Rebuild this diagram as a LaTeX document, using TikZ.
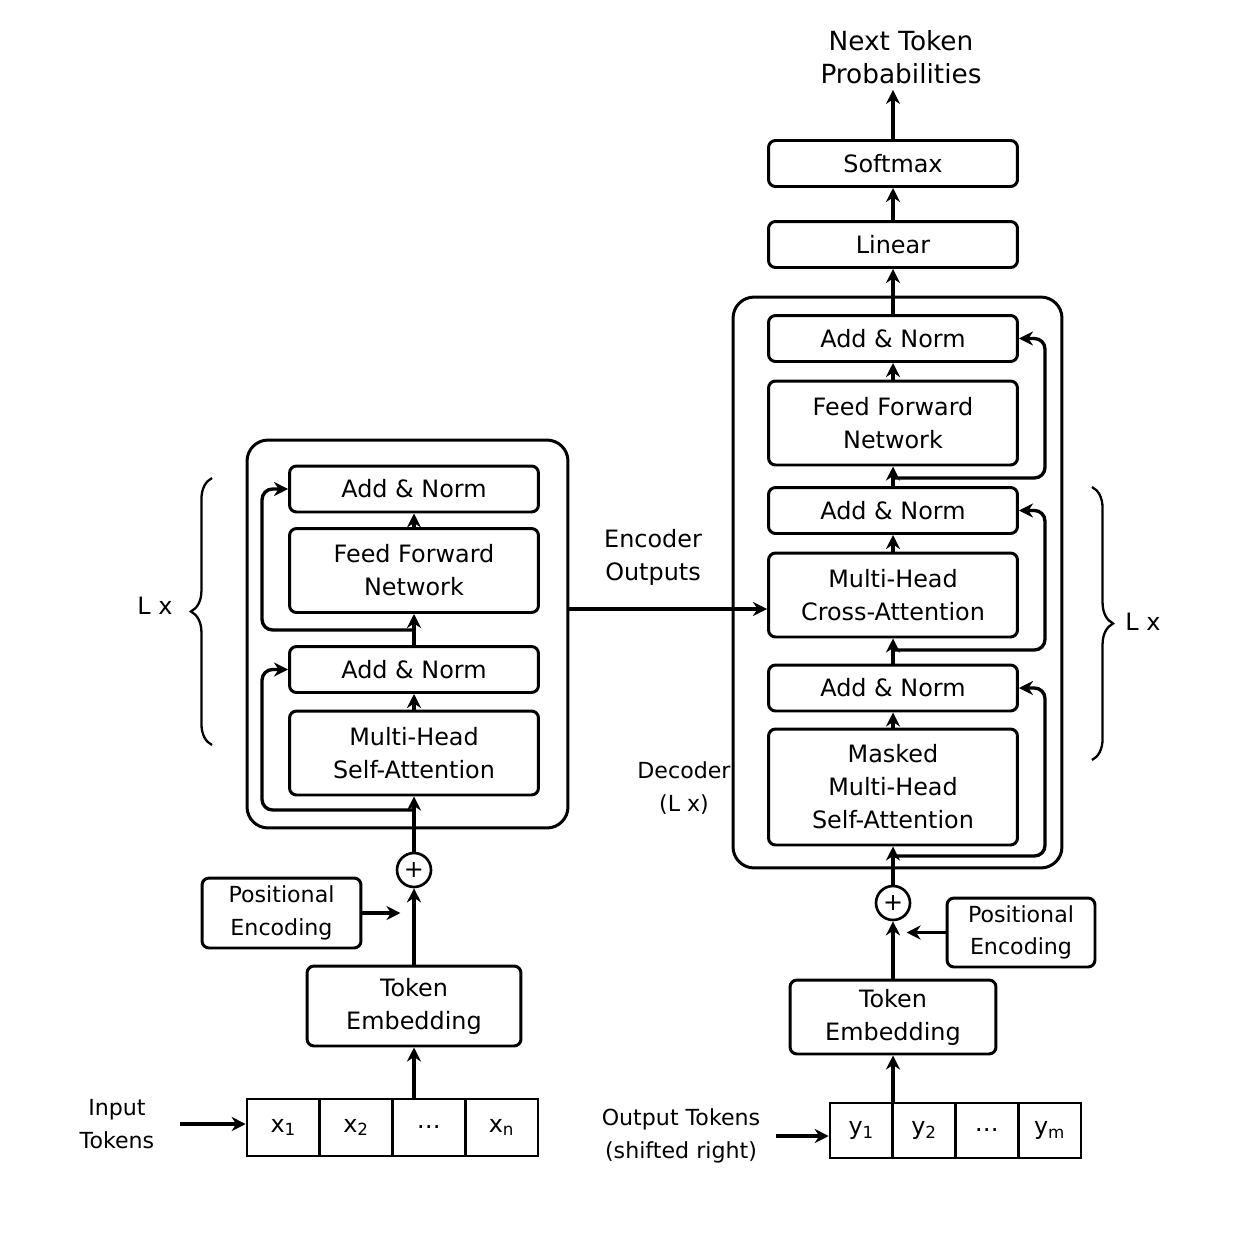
\documentclass[tikz,border=0pt]{standalone}
\usepackage{fontspec}
\setmainfont{DejaVu Sans}
\usepackage{tikz}
\usetikzlibrary{positioning,calc}
\usetikzlibrary{arrows.meta,decorations.pathreplacing}
\newcommand\blkfont{\fontsize{13.6}{18.8}\selectfont}
\newcommand\lblfont{\fontsize{12.6}{18.4}\selectfont}
\tikzset{
	blk/.style={draw=black,line width=1.7pt,rounded corners=4pt,fill=white,align=center,
		inner sep=0pt,minimum width=4.98cm,font=\blkfont},
	addnorm/.style={blk,minimum height=0.92cm},
	sublayer/.style={blk,minimum height=1.68cm},
	stack/.style={draw=black,line width=1.7pt,rounded corners=12pt,inner sep=0pt},
	cell/.style={draw=black,line width=1.5pt,inner sep=0pt,font=\blkfont},
	plus/.style={circle,draw=black,line width=1.5pt,minimum size=0.68cm,inner sep=0pt,font=\blkfont},
	lbl/.style={align=center,font=\lblfont},
	arr/.style={draw=black,line width=1.9pt,-{Stealth[length=8pt,width=8pt]}},
	res/.style={arr,rounded corners=6pt},
	brc/.style={draw=black,line width=1.3pt,decorate,decoration={brace,amplitude=12pt}},
}

\begin{document}
\begin{tikzpicture}[x=0.02cm,y=-0.02cm]
	\useasboundingbox (0,0) rectangle (1254,1254);
	% encoder
	\node[stack,minimum width=6.42cm,minimum height=7.76cm] (encbox) at (407.5,634) {};
	\node[addnorm] (encan2) at (414,489) {Add \& Norm};
	\node[sublayer] (encff) at (414,570.5) {Feed Forward\\Network};
	\node[addnorm] (encan1) at (414,669.5) {Add \& Norm};
	\node[sublayer] (encmha) at (414,753) {Multi-Head\\Self-Attention};
	\node[plus] (encplus) at (414,870) {+};
	\node[blk,minimum width=3.18cm,minimum height=1.4cm,font=\lblfont] (encpe) at (281.5,913) {Positional\\Encoding};
	\node[blk,minimum width=4.28cm,minimum height=1.6cm] (encemb) at (414,1006) {Token\\Embedding};
	\foreach \i/\t in {1/x\textsubscript{1},2/x\textsubscript{2},3/\dots,4/x\textsubscript{n}}
		\node[cell,minimum width=1.455cm,minimum height=1.14cm] (xin\i) at ({283.4+72.75*(\i-1)},1127.5) {\t};
	\node[lbl] (intok) at (117,1124) {Input\\Tokens};
	\node[lbl,font=\blkfont] (lenc) at (155,606) {L x};
	\draw[brc] (212,745) -- (212,478);
	% decoder
	\node[stack,minimum width=6.58cm,minimum height=11.42cm] (decbox) at (897.5,582.5) {};
	\node[addnorm] (decan3) at (893,338.5) {Add \& Norm};
	\node[sublayer] (decff) at (893,423) {Feed Forward\\Network};
	\node[addnorm] (decan2) at (893,510.5) {Add \& Norm};
	\node[sublayer] (decca) at (893,595) {Multi-Head\\Cross-Attention};
	\node[addnorm] (decan1) at (893,688) {Add \& Norm};
	\node[blk,minimum height=2.32cm] (decmmha) at (893,787) {Masked\\Multi-Head\\Self-Attention};
	\node[addnorm] (linear) at (893,244.5) {Linear};
	\node[addnorm] (softmax) at (893,163.5) {Softmax};
	\node[lbl,font=\fontsize{15}{18.8}\selectfont] (nexttok) at (901,57) {Next Token\\Probabilities};
	\node[plus] (decplus) at (893,903) {+};
	\node[blk,minimum width=2.96cm,minimum height=1.38cm,font=\lblfont] (decpe) at (1021,932.5) {Positional\\Encoding};
	\node[blk,minimum width=4.12cm,minimum height=1.48cm] (decemb) at (893,1017) {Token\\Embedding};
	\foreach \i/\t in {1/y\textsubscript{1},2/y\textsubscript{2},3/\dots,4/y\textsubscript{m}}
		\node[cell,minimum width=1.255cm,minimum height=1.1cm] (yout\i) at ({861.4+62.75*(\i-1)},1130.5) {\t};
	\node[lbl] (outtok) at (681,1136) {Output Tokens\\(shifted right)};
	\node[lbl] (declbl) at (684,788) {Decoder\\(L x)};
	\node[lbl,font=\blkfont] (ldec) at (1143,622) {L x};
	\draw[brc] (1092,487) -- (1092,760);
	\node[lbl,font=\blkfont] (eolbl) at (653,557) {Encoder\\Outputs};

	% encoder flow
	\draw[arr] ([xshift=0.4cm]intok.east) -- (xin1.west |- intok.east);
	\draw[arr] (encemb.south |- xin3.north) -- (encemb.south);
	\draw[arr] (encemb.north) -- (encplus.south);
	\draw[arr] (encpe.east) -- ++(0.76cm,0);
	\draw[arr] (encplus.north) -- (encmha.south);
	\draw[arr] (encmha.north) -- (encan1.south);
	\draw[arr] (encan1.north) -- (encff.south);
	\draw[arr] (encff.north) -- (encan2.south);
	\coordinate (er1) at (414,810);
	\coordinate (er2) at (414,630);
	\draw[res] (er1) -| ([xshift=-0.52cm]encan1.west) -- (encan1.west);
	\draw[res] (er2) -| ([xshift=-0.52cm]encan2.west) -- (encan2.west);
	\coordinate (eo) at (660,609);
	\draw[arr] (encbox.east |- eo) -- (decca.west |- eo);

	% decoder flow
	\draw[arr] ([xshift=0.2cm]outtok.east) -- (yout1.west |- outtok.east);
	\draw[arr] (decemb.south |- yout2.north) -- (decemb.south);
	\draw[arr] (decemb.north) -- (decplus.south);
	\draw[arr] (decpe.west) -- ++(-0.78cm,0);
	\draw[arr] (decplus.north) -- (decmmha.south);
	\draw[arr] (decmmha.north) -- (decan1.south);
	\draw[arr] (decan1.north) -- (decca.south);
	\draw[arr] (decca.north) -- (decan2.south);
	\draw[arr] (decan2.north) -- (decff.south);
	\draw[arr] (decff.north) -- (decan3.south);
	\draw[arr] (decan3.north) -- (linear.south);
	\draw[arr] (linear.north) -- (softmax.south);
	\draw[arr] (softmax.north) -- (softmax.north |- nexttok.south);
	\coordinate (dr1) at (893,856);
	\coordinate (dr2) at (893,650);
	\coordinate (dr3) at (893,478);
	\draw[res] (dr1) -| ([xshift=0.52cm]decan1.east) -- (decan1.east);
	\draw[res] (dr2) -| ([xshift=0.52cm]decan2.east) -- (decan2.east);
	\draw[res] (dr3) -| ([xshift=0.52cm]decan3.east) -- (decan3.east);
\end{tikzpicture}
\end{document}
